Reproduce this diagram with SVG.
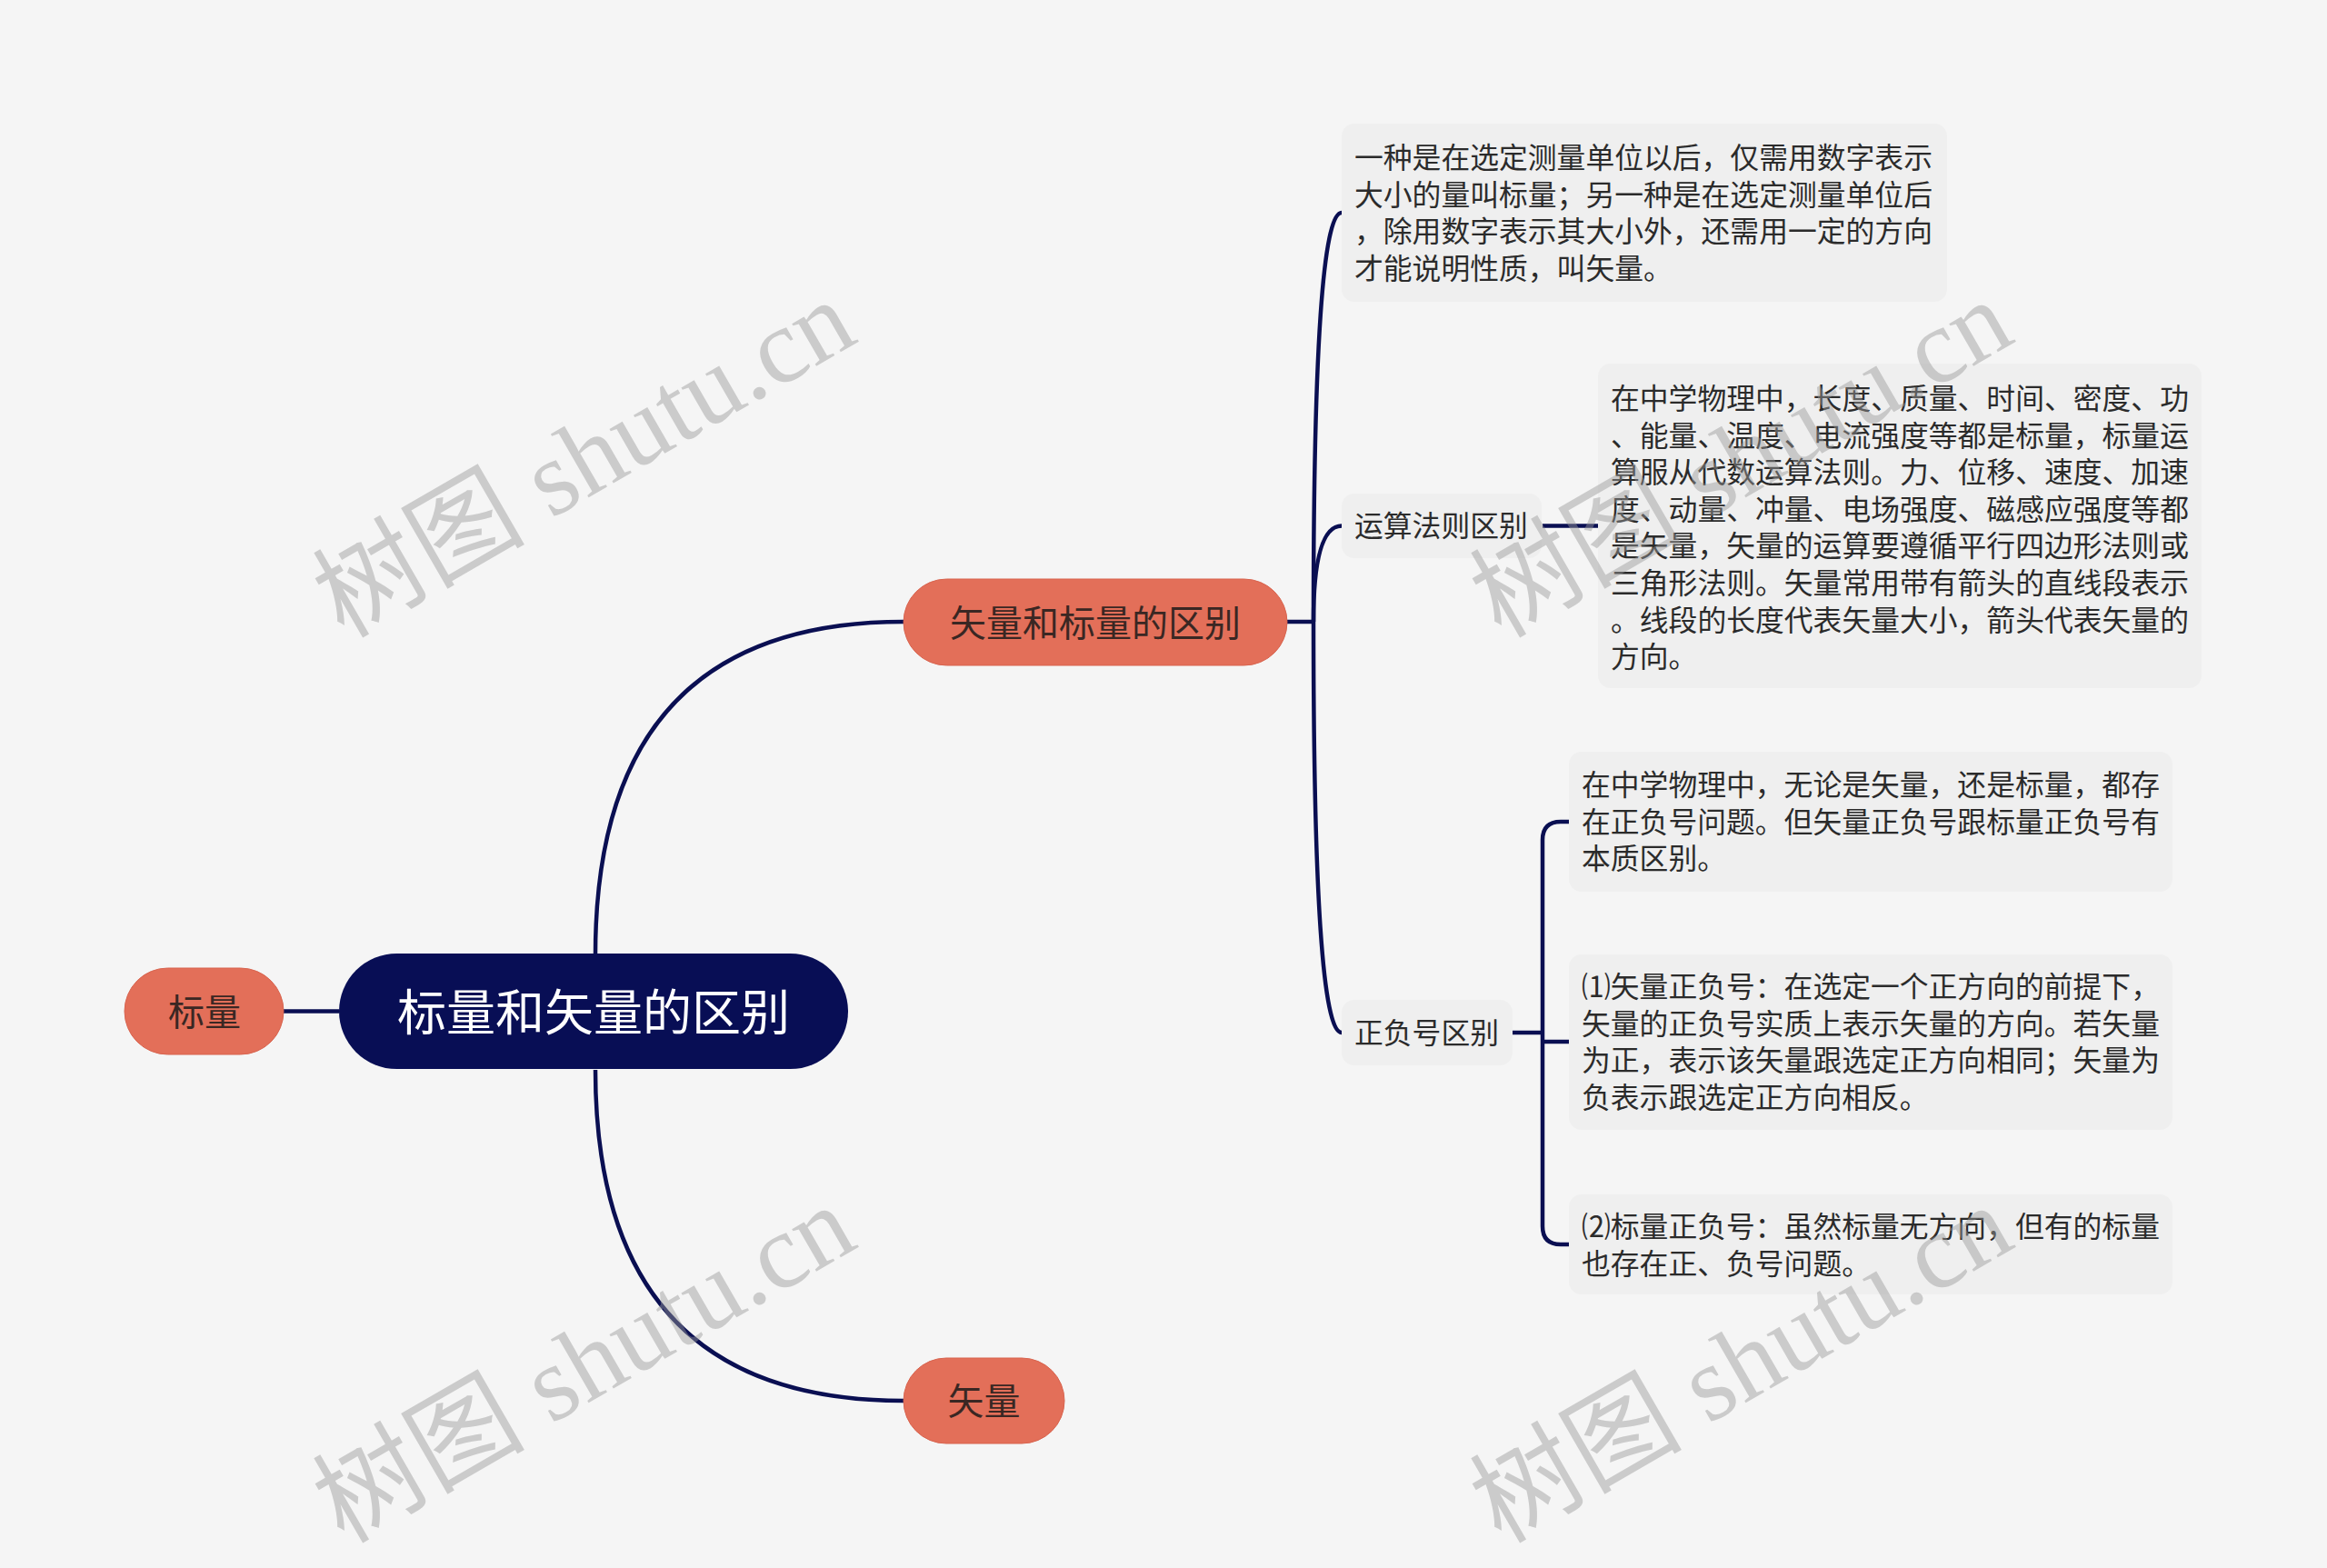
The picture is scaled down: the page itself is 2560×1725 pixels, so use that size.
<svg xmlns="http://www.w3.org/2000/svg" width="2560" height="1725" viewBox="0 0 2560 1725">
<style>
text{font-family:"Noto Sans CJK SC","Noto Sans",sans-serif;dominant-baseline:central}
.conn{fill:none;stroke:#0a0f52;stroke-width:4.5;stroke-linecap:butt}
.root rect{fill:#080e55}
.root text{fill:#ffffff;font-size:54px;text-anchor:middle}
.main rect{fill:#e36f59;stroke:#d8644f;stroke-width:1}
.main text{fill:#3a2723;font-size:40px;text-anchor:middle}
.leaf rect{fill:#efefef}
.leaf text{fill:#2b2b2b;font-size:31.8px}
.wm{font-family:"Liberation Serif","Noto Sans CJK SC",serif;font-size:117px;fill:#999;opacity:0.45;dominant-baseline:auto}
</style>
<rect width="2560" height="1725" fill="#f5f5f5"/>
<g id="connectors">
<path class="conn" d="M312 1112.5 H373"/>
<path class="conn" d="M655 1050 Q655 684 994 684"/>
<path class="conn" d="M655 1177 Q655 1541 994 1541"/>
<path class="conn" d="M1416 684 H1445"/>
<path class="conn" d="M1445 684 Q1445 234 1476 234"/>
<path class="conn" d="M1445 684 Q1445 578.5 1476 578.5"/>
<path class="conn" d="M1445 684 Q1445 1136 1476 1136"/>
<path class="conn" d="M1697 578.5 H1758"/>
<path class="conn" d="M1664 1136 H1697"/>
<path class="conn" d="M1697 1136 V924 Q1697 904 1717 904 H1726"/>
<path class="conn" d="M1697 1146 H1726"/>
<path class="conn" d="M1697 1136 V1349 Q1697 1369 1717 1369 H1726"/>
</g>
<g id="root" class="root">
<rect x="373" y="1049" width="560" height="127" rx="63.5"/>
<text x="653" y="1110">标量和矢量的区别</text>
</g>
<g id="n-biaoliang" class="main">
<rect x="137" y="1065" width="175" height="95" rx="47.5"/>
<text x="225" y="1111">标量</text>
</g>
<g id="n-qubie" class="main">
<rect x="994" y="637" width="422" height="95" rx="47.5"/>
<text x="1205" y="683">矢量和标量的区别</text>
</g>
<g id="n-shiliang" class="main">
<rect x="994" y="1494" width="177" height="94" rx="47"/>
<text x="1082.5" y="1539">矢量</text>
</g>
<g id="n-def" class="leaf">
<rect x="1476" y="136" width="666" height="196" rx="14"/>
<text x="1490" y="171">一种是在选定测量单位以后，仅需用数字表示</text>
<text x="1490" y="211.5">大小的量叫标量；另一种是在选定测量单位后</text>
<text x="1490" y="252">，除用数字表示其大小外，还需用一定的方向</text>
<text x="1490" y="292.5">才能说明性质，叫矢量。</text>
</g>
<g id="n-yunsuan" class="leaf">
<rect x="1476" y="543" width="220" height="71" rx="14"/>
<text x="1490" y="576">运算法则区别</text>
</g>
<g id="n-yunsuan-text" class="leaf">
<rect x="1758" y="400" width="664" height="357" rx="14"/>
<text x="1772" y="436">在中学物理中，长度、质量、时间、密度、功</text>
<text x="1772" y="476.6">、能量、温度、电流强度等都是标量，标量运</text>
<text x="1772" y="517.2">算服从代数运算法则。力、位移、速度、加速</text>
<text x="1772" y="557.8">度、动量、冲量、电场强度、磁感应强度等都</text>
<text x="1772" y="598.4">是矢量，矢量的运算要遵循平行四边形法则或</text>
<text x="1772" y="639">三角形法则。矢量常用带有箭头的直线段表示</text>
<text x="1772" y="679.6">。线段的长度代表矢量大小，箭头代表矢量的</text>
<text x="1772" y="720.2">方向。</text>
</g>
<g id="n-zhengfu" class="leaf">
<rect x="1476" y="1100" width="188" height="72" rx="14"/>
<text x="1490" y="1134">正负号区别</text>
</g>
<g id="n-zf1" class="leaf">
<rect x="1726" y="827" width="664" height="154" rx="14"/>
<text x="1740" y="861">在中学物理中，无论是矢量，还是标量，都存</text>
<text x="1740" y="901.5">在正负号问题。但矢量正负号跟标量正负号有</text>
<text x="1740" y="942">本质区别。</text>
</g>
<g id="n-zf2" class="leaf">
<rect x="1726" y="1050" width="664" height="193" rx="14"/>
<text x="1740" y="1083">⑴矢量正负号：在选定一个正方向的前提下，</text>
<text x="1740" y="1123.7">矢量的正负号实质上表示矢量的方向。若矢量</text>
<text x="1740" y="1164.3">为正，表示该矢量跟选定正方向相同；矢量为</text>
<text x="1740" y="1205">负表示跟选定正方向相反。</text>
</g>
<g id="n-zf3" class="leaf">
<rect x="1726" y="1314" width="664" height="110" rx="14"/>
<text x="1740" y="1347">⑵标量正负号：虽然标量无方向，但有的标量</text>
<text x="1740" y="1388">也存在正、负号问题。</text>
</g>
<g id="watermarks">
<text class="wm" transform="translate(378 703) rotate(-30)">树图 shutu.cn</text>
<text class="wm" transform="translate(378 1699) rotate(-30)">树图 shutu.cn</text>
<text class="wm" transform="translate(1651 703) rotate(-30)">树图 shutu.cn</text>
<text class="wm" transform="translate(1651 1699) rotate(-30)">树图 shutu.cn</text>
</g>
</svg>
